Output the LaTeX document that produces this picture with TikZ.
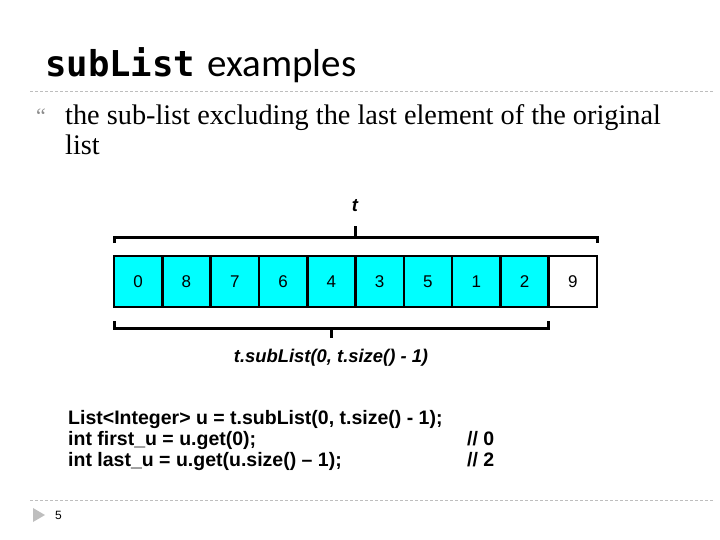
\documentclass[tikz,border=0pt]{standalone}
\usepackage{fontspec}
\setmainfont{Liberation Serif}
\newfontfamily\monofont{DejaVu Sans Mono}
\newfontfamily\calibrifont{Carlito}
\newfontfamily\arialfont{Liberation Sans}
\usetikzlibrary{positioning}
\usepackage{xcolor}
\definecolor{listcyan}{RGB}{0,255,255}
\definecolor{rulegray}{RGB}{190,190,190}
\definecolor{bulletgray}{RGB}{140,140,140}

\begin{document}
\begin{tikzpicture}[
x=1pt, y=-1pt,
every node/.style={inner sep=0pt},
cell/.style={
draw,
line width=2.6pt,
outer sep=0pt,
fill=listcyan,
minimum width=48.3pt,
minimum height=51pt,
font=\arialfont\fontsize{17}{17}\selectfont
},
brace/.style={line width=3pt},
rulerline/.style={rulegray, dashed, dash pattern=on 3pt off 2pt, line width=0.8pt},
codeline/.style={anchor=base west, font=\arialfont\bfseries\fontsize{19.5}{19.5}\selectfont},
listlabel/.style={font=\arialfont\bfseries\itshape\fontsize{18.4}{18.4}\selectfont}
]
\useasboundingbox (0,0) rectangle (720,540);

% title
\node[anchor=base west] (sublist) at (45,77) {\monofont\bfseries\fontsize{35.6}{36}\selectfont subList};
\node[anchor=base west] (examples) at ([xshift=12pt]sublist.base east) {\calibrifont\fontsize{39}{39}\selectfont examples};
\draw[rulerline] (30,91) -- (714,91);

% bullet text
\node[anchor=base west, text=bulletgray] (bullet) at (36,124) {\fontsize{22}{22}\selectfont “};
\node[anchor=base west] (line1) at (65,125) {\fontsize{28.3}{28}\selectfont the sub-list excluding the last element of the original};
\node[anchor=base west] (line2) at (65,155) {\fontsize{28.3}{28}\selectfont list};

% the list t
\node[cell] (c1) at (138.15,281.5) {0};
\foreach \v [count=\i from 2, remember=\i as \j (initially 1)] in {8,7,6,4,3,5,1,2}
\node[cell, right=0pt of c\j] (c\i) {\v};
\node[cell, fill=white, right=0pt of c9] (c10) {9};

% brace over t
\draw[brace] ([yshift=13pt]c1.north west) -- ([yshift=19pt]c1.north west)
-- ([yshift=19pt]c10.north east) -- ([yshift=13pt]c10.north east);
\node[listlabel] (t) at (355,206) {t};
\draw[brace] ([yshift=19pt]c5.north east) -- ([yshift=30pt]c5.north east);

% brace under the sub-list
\draw[brace] ([yshift=-14pt]c1.south west) -- ([yshift=-21pt]c1.south west)
-- ([yshift=-21pt]c9.south east) -- ([yshift=-14pt]c9.south east);
\draw[brace] ([yshift=-21pt]c5.south) -- ([yshift=-31pt]c5.south);
\node[listlabel] (sub) at (331,358) {t.subList(0, t.size() - 1)};

% code
\node[codeline] (code1) at (68,424) {List<Integer> u = t.subList(0, t.size() - 1);};
\node[codeline] (code2) at (68,445) {int first\_u = u.get(0);};
\node[codeline] (code3) at (68,466) {int last\_u = u.get(u.size() – 1);};
\node[codeline] (res1) at (467,445) {// 0};
\node[codeline] (res2) at (467,466) {// 2};

% footer
\draw[rulerline] (30,500) -- (714,500);
\fill[rulegray] (33,508) -- (45,515) -- (33,522) -- cycle;
\node[anchor=west] (page) at (55,515) {\arialfont\fontsize{12}{12}\selectfont 5};

\end{tikzpicture}
\end{document}
